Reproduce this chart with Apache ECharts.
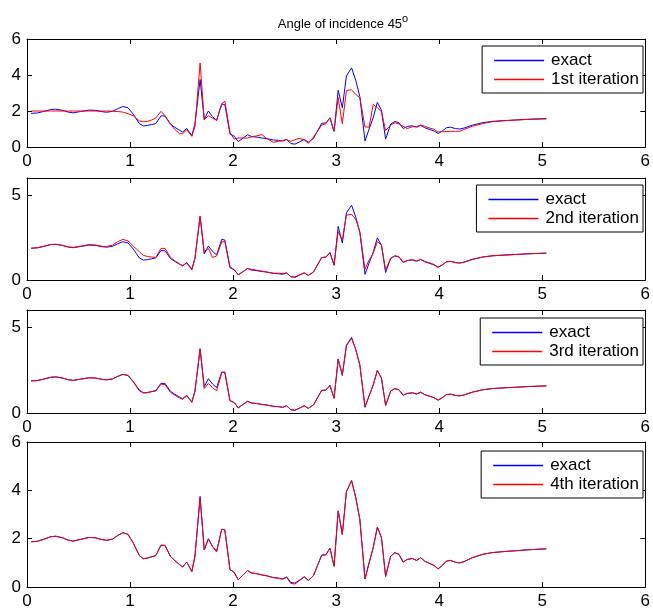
<!DOCTYPE html>
<html>
<head>
<meta charset="utf-8">
<script src="https://cdn.jsdelivr.net/npm/echarts@6/dist/echarts.min.js"></script>
<style>
html,body{margin:0;padding:0;background:#fff;}
#chart{width:653px;height:614px;}
</style>
</head>
<body>
<div id="chart"></div>
<script>
// Shared x positions
const xs = [0.04,0.10,0.16,0.23,0.28,0.34,0.40,0.45,0.52,0.60,0.66,0.72,0.77,0.83,0.88,0.93,0.98,1.03,1.09,1.13,
  1.17,1.21,1.25,1.30,1.34,1.39,1.43,1.48,1.51,1.55,1.60,1.63,1.68,1.72,1.76,1.80,1.84,1.89,1.92,1.97,
  2.01,2.05,2.10,2.14,2.18,2.23,2.28,2.32,2.39,2.44,2.48,2.52,2.56,2.60,2.64,2.69,2.73,2.78,2.86,2.90,
  2.94,2.98,3.02,3.06,3.10,3.15,3.19,3.23,3.28,3.32,3.36,3.40,3.44,3.48,3.53,3.57,3.61,3.65,3.69,3.74,
  3.78,3.82,3.86,3.91,3.95,3.99,4.03,4.07,4.11,4.16,4.20,4.24,4.32,4.42,4.51,4.61,4.74,4.86,5.04];

const exact = [1.87,1.89,1.97,2.08,2.10,2.04,1.94,1.90,1.97,2.05,2.04,1.97,1.93,1.98,2.13,2.25,2.18,1.83,1.30,1.17,
  1.20,1.25,1.30,1.73,1.72,1.28,1.11,0.93,0.83,1.03,0.64,1.28,3.75,1.53,2.00,1.69,1.48,2.39,2.35,0.72,
  0.61,0.30,0.51,0.68,0.58,0.55,0.50,0.47,0.39,0.37,0.33,0.42,0.19,0.16,0.27,0.42,0.27,0.47,1.32,1.33,
  1.61,0.86,3.15,2.18,3.95,4.40,3.71,2.80,0.33,1.00,1.63,2.48,2.04,0.44,1.28,1.42,1.35,1.03,1.14,1.18,
  1.10,1.21,1.07,0.97,0.89,0.75,0.89,1.07,1.10,1.02,1.00,1.05,1.21,1.35,1.42,1.46,1.50,1.54,1.58];

const iter1 = [2.00,2.00,2.00,2.00,2.00,2.00,2.00,2.00,2.00,2.00,2.00,2.00,2.00,1.99,1.97,1.94,1.85,1.74,1.45,1.40,
  1.42,1.50,1.61,1.98,1.74,1.30,1.00,0.74,0.74,0.96,0.59,1.15,4.67,1.52,1.74,1.61,1.48,2.41,2.54,0.81,
  0.44,0.50,0.50,0.50,0.56,0.62,0.69,0.50,0.26,0.32,0.36,0.41,0.32,0.40,0.48,0.40,0.20,0.55,1.22,1.29,
  1.63,0.89,2.74,1.29,3.14,3.18,2.92,2.74,1.11,1.11,2.37,2.18,1.96,0.92,1.22,1.35,1.28,1.15,1.02,1.13,
  1.13,1.22,1.15,1.05,0.98,0.83,0.85,0.86,0.87,0.87,0.88,0.97,1.15,1.30,1.40,1.45,1.50,1.53,1.56];

const iter2 = [1.87,1.90,1.98,2.09,2.10,2.04,1.95,1.92,1.99,2.08,2.06,1.99,1.97,2.05,2.25,2.39,2.30,2.00,1.67,1.45,
  1.38,1.35,1.33,1.86,1.86,1.35,1.15,0.95,0.84,1.00,0.59,1.28,3.76,1.67,1.86,1.33,1.41,2.25,2.25,0.78,
  0.61,0.32,0.50,0.68,0.62,0.58,0.52,0.48,0.40,0.40,0.38,0.42,0.20,0.18,0.30,0.42,0.27,0.47,1.32,1.36,
  1.61,0.90,2.84,2.35,3.82,3.86,3.57,2.84,0.63,1.18,1.57,2.25,2.06,0.59,1.28,1.42,1.38,1.05,1.14,1.20,
  1.12,1.21,1.10,1.00,0.91,0.75,0.88,1.06,1.10,1.02,1.00,1.05,1.21,1.35,1.42,1.46,1.50,1.54,1.58];

const iter3 = [1.87,1.89,1.97,2.08,2.10,2.04,1.94,1.90,1.97,2.05,2.04,1.97,1.93,1.99,2.14,2.25,2.20,1.85,1.35,1.18,
  1.18,1.24,1.28,1.68,1.65,1.22,1.05,0.88,0.80,1.00,0.62,1.28,3.72,1.42,1.72,1.48,1.29,2.34,2.40,0.72,
  0.61,0.30,0.51,0.68,0.58,0.55,0.50,0.47,0.39,0.37,0.33,0.42,0.19,0.16,0.27,0.42,0.27,0.47,1.32,1.33,
  1.61,0.86,3.12,2.25,3.92,4.35,3.70,2.80,0.38,1.00,1.63,2.48,2.04,0.44,1.28,1.42,1.35,1.03,1.14,1.18,
  1.10,1.21,1.07,0.97,0.89,0.75,0.89,1.07,1.10,1.02,1.00,1.05,1.21,1.35,1.42,1.46,1.50,1.54,1.58];

const iter4 = [1.87,1.89,1.97,2.08,2.10,2.04,1.94,1.90,1.97,2.05,2.04,1.97,1.93,1.98,2.13,2.25,2.18,1.83,1.30,1.17,
  1.20,1.25,1.30,1.73,1.72,1.28,1.11,0.93,0.83,1.03,0.64,1.28,3.70,1.53,1.98,1.67,1.45,2.39,2.37,0.72,
  0.61,0.30,0.51,0.68,0.58,0.55,0.50,0.47,0.39,0.36,0.32,0.40,0.15,0.12,0.25,0.42,0.27,0.47,1.32,1.33,
  1.61,0.86,3.15,2.18,3.95,4.40,3.71,2.80,0.33,1.00,1.63,2.48,2.04,0.44,1.28,1.42,1.35,1.03,1.14,1.18,
  1.10,1.21,1.07,0.97,0.89,0.75,0.89,1.07,1.10,1.02,1.00,1.05,1.21,1.35,1.42,1.46,1.50,1.54,1.58];

const iterNames = ['1st iteration','2nd iteration','3rd iteration','4th iteration'];
const iterData = [iter1, iter2, iter3, iter4];
const yIntervals = [2, 5, 5, 2];
const xMin = 0, xMax = 6, xInterval = 1;
const yMin = 0, yMax = 6;
const titleMain = 'Angle of incidence 45';
const titleSup = 'o';

const BLUE = '#0000ff', RED = '#ff0000';
const FONT = '"Liberation Sans", Arial, Helvetica, sans-serif';
const grids = [
  {left: 27, top: 39, width: 623, height: 108},
  {left: 27, top: 178, width: 623, height: 102},
  {left: 27, top: 310, width: 623, height: 103},
  {left: 27, top: 442, width: 623, height: 145}
];
const legendTops = [46, 185, 318, 451];

const pairs = ys => xs.map((x, j) => [x, ys[j]]);

const xAxis = [], yAxis = [], series = [], legend = [];
grids.forEach((g, i) => {
  const lineStyle = {color: '#000', width: 1};
  ['bottom','top'].forEach((pos, k) => {
    xAxis.push({
      type: 'value', gridIndex: i, position: pos, min: xMin, max: xMax, interval: xInterval,
      axisLine: {show: true, onZero: false, lineStyle},
      axisTick: {show: true, inside: true, length: 5, lineStyle},
      axisLabel: {show: k === 0, color: '#000', fontSize: 17, fontFamily: FONT, margin: 6},
      splitLine: {show: false}
    });
  });
  ['left','right'].forEach((pos, k) => {
    yAxis.push({
      type: 'value', gridIndex: i, position: pos, min: yMin, max: yMax, interval: yIntervals[i],
      axisLine: {show: true, onZero: false, lineStyle},
      axisTick: {show: true, inside: true, length: 5, lineStyle},
      axisLabel: {show: k === 0, color: '#000', fontSize: 17, fontFamily: FONT, margin: 6,
        formatter: v => (v % yIntervals[i] === 0 ? String(v) : '')},
      splitLine: {show: false}
    });
  });
  series.push({
    name: 'exact', type: 'line', xAxisIndex: 2*i, yAxisIndex: 2*i, data: pairs(exact),
    showSymbol: false, symbol: 'none', lineStyle: {color: BLUE, width: 1}, itemStyle: {color: BLUE}
  });
  series.push({
    name: iterNames[i], type: 'line', xAxisIndex: 2*i, yAxisIndex: 2*i, data: pairs(iterData[i]),
    showSymbol: false, symbol: 'none', lineStyle: {color: RED, width: 1}, itemStyle: {color: RED}
  });
  legend.push({
    data: [
      {name: 'exact', icon: 'rect', itemStyle: {color: BLUE, borderWidth: 0}},
      {name: iterNames[i], icon: 'rect', itemStyle: {color: RED, borderWidth: 0}}
    ],
    orient: 'vertical', right: 10, top: legendTops[i],
    backgroundColor: '#fff', borderColor: '#000', borderWidth: 1, borderRadius: 0,
    padding: [5, 4, 4, 12], itemGap: 0, itemWidth: 50, itemHeight: 1.5,
    itemStyle: {borderWidth: 0},
    lineStyle: {width: 0},
    selectedMode: false,
    textStyle: {color: '#000', fontSize: 17, fontFamily: FONT, lineHeight: 19, padding: [0,0,0,2]}
  });
});

const chart = echarts.init(document.getElementById('chart'), null, {renderer: 'canvas'});
chart.setOption({
  animation: false,
  backgroundColor: '#fff',
  title: {
    text: '{t|' + titleMain + '}{s|' + titleSup + '}',
    left: 338, top: 8, textAlign: 'center',
    textStyle: {
      fontWeight: 'normal',
      rich: {
        t: {fontSize: 13, fontFamily: FONT, fontWeight: 'normal', color: '#000', lineHeight: 18, verticalAlign: 'bottom'},
        s: {fontSize: 11, fontFamily: FONT, fontWeight: 'normal', color: '#000', lineHeight: 11, verticalAlign: 'top'}
      }
    }
  },
  grid: grids,
  xAxis, yAxis, series, legend
});
</script>
</body>
</html>
